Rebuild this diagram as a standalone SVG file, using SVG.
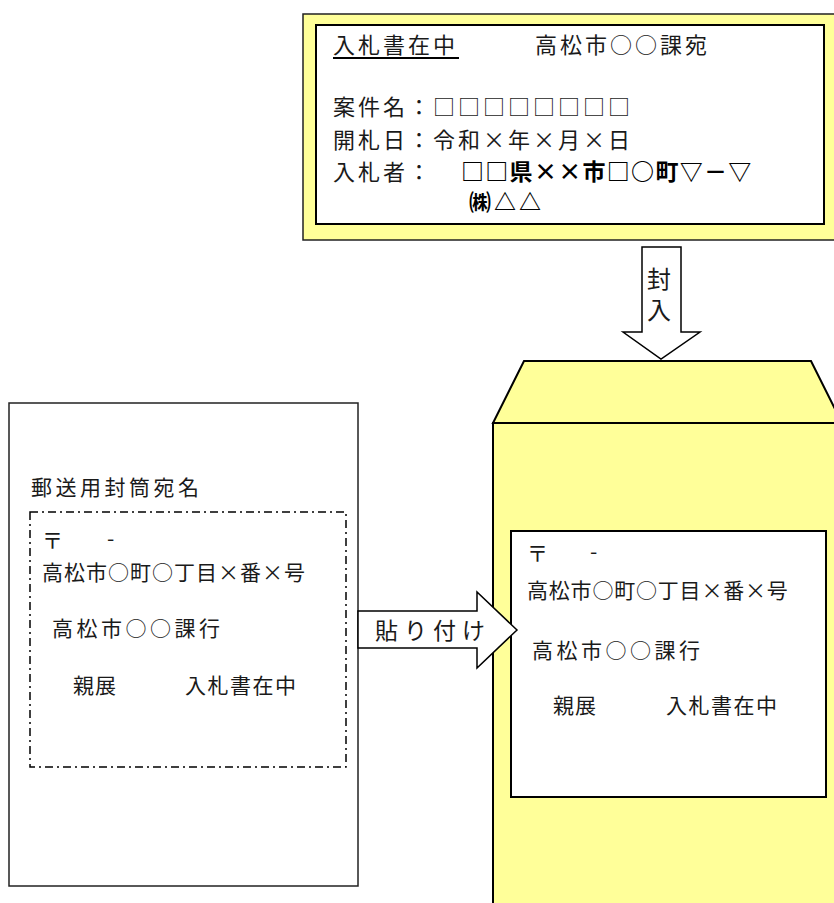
<svg xmlns="http://www.w3.org/2000/svg" width="834" height="903" viewBox="0 0 834 903">
<style>
text{font-family:"Noto Sans CJK JP","Liberation Sans",sans-serif;font-size:21px;fill:#1a1a1a}
.sp{font-size:22px;letter-spacing:3px}
.b{font-weight:bold;fill:#000}
.yel{fill:#ffff99;stroke:#000;stroke-width:2}
.wht{fill:#fff;stroke:#000;stroke-width:2}
.arr{fill:#fff;stroke:#000;stroke-width:1.5;stroke-linejoin:miter}
</style>
<rect width="834" height="903" fill="#fff"/>
<g id="bid-note">
<rect x="303" y="14" width="545" height="226" fill="#ffff99" stroke="#222" stroke-width="1.5"/>
<rect x="316" y="25" width="508" height="199" class="wht"/>
<text x="333" y="53" class="sp">入札書在中</text>
<line x1="333" y1="58" x2="459" y2="58" stroke="#000" stroke-width="2"/>
<text x="535" y="53" class="sp">高松市○○課宛</text>
<text x="333" y="115" class="sp">案件名：□□□□□□□□</text>
<text x="333" y="148" class="sp">開札日：令和×年×月×日</text>
<text x="333" y="180" class="sp">入札者：</text>
<text x="461" y="180" class="b" style="font-size:23px;letter-spacing:1.3px">□□県××市□○町▽－▽</text>
<text x="469" y="210" class="b" style="font-size:22px;letter-spacing:3px">㈱△△</text>
</g>
<g id="envelope">
<polygon points="524,361 811,361 842,423 493,423" class="yel"/>
<rect x="493" y="423" width="360" height="500" class="yel"/>
</g>
<g id="envelope-label">
<rect x="511" y="531" width="315" height="266" class="wht" stroke-width="2.5"/>
<text x="527" y="561">〒</text>
<text x="590" y="559">-</text>
<text x="527" y="598" style="letter-spacing:0.8px">高松市○町○丁目×番×号</text>
<text x="532" y="658" style="letter-spacing:3.5px">高松市○○課行</text>
<text x="553" y="713" style="letter-spacing:1px">親展</text>
<text x="666" y="713" style="letter-spacing:1.5px">入札書在中</text>
</g>
<g id="mailing-envelope">
<rect x="9" y="403" width="349" height="483" fill="#fff" stroke="#222" stroke-width="1.5"/>
<text x="31" y="495" style="letter-spacing:3.5px">郵送用封筒宛名</text>
</g>
<g id="mailing-label">
<rect x="30" y="512" width="316" height="255" fill="none" stroke="#000" stroke-width="1.5" stroke-dasharray="8 4 2 4"/>
<text x="42" y="548">〒</text>
<text x="107" y="546">-</text>
<text x="42" y="580" style="letter-spacing:1px">高松市○町○丁目×番×号</text>
<text x="52" y="636" style="letter-spacing:3.5px">高松市○○課行</text>
<text x="73" y="693" style="letter-spacing:1px">親展</text>
<text x="185" y="693" style="letter-spacing:1.5px">入札書在中</text>
</g>
<g id="connectors">
<g id="arrow-fuunyu">
<polygon points="642,247 681,247 681,332 700,332 661,359 623,332 642,332" class="arr"/>
<text x="659" y="267" writing-mode="vertical-rl" style="font-size:24px;letter-spacing:7px">封入</text>
</g>
<g id="arrow-haritsuke">
<polygon points="358,611 477,611 477,592 517,630 477,668 477,648 358,648" class="arr"/>
<text x="375" y="639" style="font-size:23px;letter-spacing:6px">貼り付け</text>
</g>
</g>
</svg>
